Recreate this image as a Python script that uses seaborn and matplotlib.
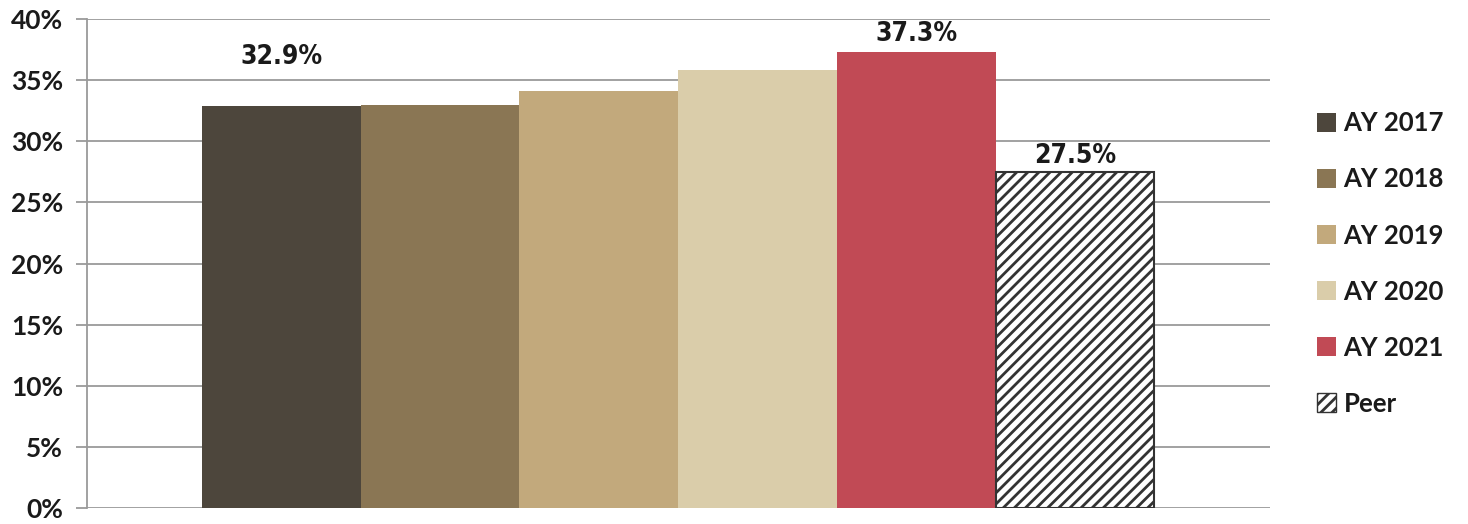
import matplotlib
matplotlib.use("Agg")
import matplotlib.pyplot as plt
import matplotlib.ticker as mticker
import seaborn as sns
import pandas as pd

# Data
series = ["AY 2017", "AY 2018", "AY 2019", "AY 2020", "AY 2021", "Peer"]
values = [32.9, 33.0, 34.1, 35.8, 37.3, 27.5]
labelled = ["AY 2017", "AY 2021", "Peer"]
colors = ["#4d463c", "#8a7654", "#c2a97c", "#dacdaa", "#c14a55", "#ffffff"]
yticks = [0, 5, 10, 15, 20, 25, 30, 35, 40]

sns.set_theme(style="white")
plt.rcParams["font.family"] = ["Lato", "DejaVu Sans"]
plt.rcParams["hatch.linewidth"] = 2.0

df = pd.DataFrame({"grp": ["all"] * len(series), "series": series, "value": values})

fig = plt.figure(figsize=(14.68, 5.24), dpi=100)
ax = fig.add_axes([0.059, 0.0305, 0.806, 0.933])

sns.barplot(data=df, x="grp", y="value", hue="series", hue_order=series,
            palette=dict(zip(series, colors)), width=0.805, gap=0,
            saturation=1, ax=ax, legend=True)

# style peer bar
for cont, name in zip(ax.containers, series):
    for p in cont.patches:
        p.set_linewidth(0)
        if name == "Peer":
            p.set_facecolor("white")
            p.set_edgecolor("#333333")
            p.set_hatch("///")
            p.set_linewidth(1.5)

ax.set_ylim(0, 40)
ax.set_yticks(yticks)
ax.yaxis.set_major_formatter(mticker.FuncFormatter(lambda v, _: f"{v:.0f}%"))
ax.set_xlabel("")
ax.set_ylabel("")
ax.set_xticks([])
ax.grid(axis="y", color="#9a9a9a", linewidth=1.3)
ax.set_axisbelow(True)
for s in ["top", "right", "bottom"]:
    ax.spines[s].set_visible(False)
ax.spines["left"].set_color("#9a9a9a")
ax.spines["left"].set_linewidth(1.3)
ax.tick_params(axis="y", length=8, width=1.3, color="#9a9a9a", labelsize=19,
               labelcolor="#1a1a1a", pad=9, left=True)
for t in ax.get_yticklabels():
    t.set_fontweight("bold")

# value labels
offsets = {"AY 2017": 26, "AY 2021": 4, "Peer": 2}
for cont, name, v in zip(ax.containers, series, values):
    if name in labelled:
        p = cont.patches[0]
        ax.annotate(f"{v:.1f}%", (p.get_x() + p.get_width() / 2, p.get_height()),
                    xytext=(0, offsets[name]), textcoords="offset points",
                    ha="center", va="bottom", fontsize=19, fontweight="bold",
                    fontstretch="condensed", color="#1a1a1a",
                    family=["DejaVu Sans"])

# legend
handles, labels = ax.get_legend_handles_labels()
for h, lab in zip(handles, labels):
    if lab == "Peer":
        h.set_facecolor("white")
        h.set_edgecolor("#333333")
        h.set_hatch("///")
        h.set_linewidth(1.0)
    else:
        h.set_linewidth(0)
leg = ax.legend(handles, labels, loc="center left", bbox_to_anchor=(1.02, 0.5),
                frameon=False, handlelength=0.75, handleheight=0.75,
                handletextpad=0.3, labelspacing=1.25,
                prop={"family": ["Lato", "DejaVu Sans"], "size": 18.5, "weight": "bold"})
for t in leg.get_texts():
    t.set_color("#1a1a1a")

fig.savefig("out.png", dpi=100)
